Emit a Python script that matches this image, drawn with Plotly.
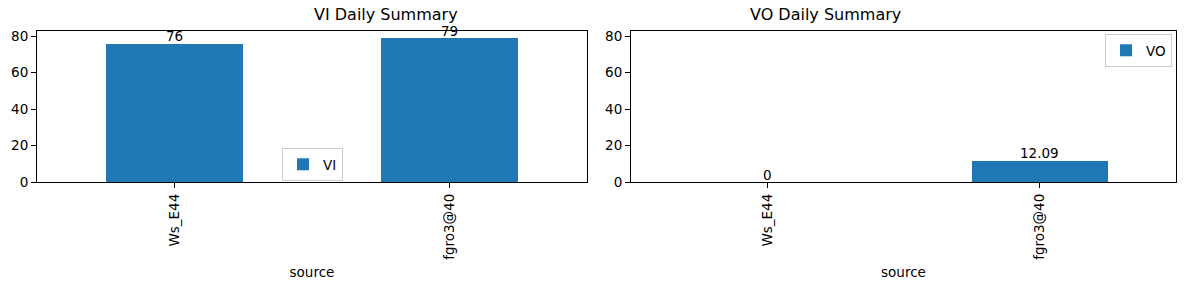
import plotly.graph_objects as go
from plotly.subplots import make_subplots

categories = ["Ws_E44", "fgro3@40"]
vi_values = [76, 79]
vo_values = [0, 12.09]
titles = ["VI Daily Summary", "VO Daily Summary"]
series_names = ["VI", "VO"]
y_ticks = [0, 20, 40, 60, 80]

W, H = 1189, 290
FONT = "DejaVu Sans"
BLUE = "#1f77b4"

fig = make_subplots(rows=1, cols=2)

ymax = max(vi_values + vo_values) * 1.05

def px_x(p):
    return p / W

def px_y(p):
    return 1 - p / H

domains = [(px_x(37), px_x(587)), (px_x(631), px_x(1176))]
ydom = (px_y(182.3), px_y(30.7))

for i, (vals, name) in enumerate(zip([vi_values, vo_values], series_names)):
    fig.add_trace(
        go.Bar(
            x=categories, y=vals, name=name, marker_color=BLUE,
            marker_line_width=0, width=0.5,
            legend="legend" if i == 0 else "legend2",
        ),
        row=1, col=i + 1,
    )
    for c, v in zip(categories, vals):
        fig.add_annotation(
            x=c, y=v, text=f"{v:g}", showarrow=False,
            xref=f"x{'' if i == 0 else 2}", yref=f"y{'' if i == 0 else 2}",
            yanchor="bottom", yshift=-3,
            font=dict(family=FONT, size=13.5, color="black"),
        )
    fig.add_annotation(
        x=(domains[i][0] + domains[i][1]) / 2, y=px_y(15), xref="paper", yref="paper",
        text=titles[i], showarrow=False, yanchor="middle",
        font=dict(family=FONT, size=16, color="black"),
    )

axis_common = dict(
    showline=True, linecolor="black", linewidth=1.1, mirror=True,
    ticks="outside", ticklen=5, tickcolor="black", tickwidth=1.1,
    showgrid=False, zeroline=False, automargin=False,
    tickfont=dict(family=FONT, size=13.5, color="black"),
)

for i in range(2):
    xa = "xaxis" if i == 0 else "xaxis2"
    ya = "yaxis" if i == 0 else "yaxis2"
    fig.layout[xa].update(
        domain=list(domains[i]), range=[-0.5, 1.5], tickangle=-90,
        title=dict(text="source", font=dict(family=FONT, size=13.5, color="black"), standoff=8),
        **axis_common,
    )
    fig.layout[ya].update(
        domain=list(ydom), range=[0, ymax], tickvals=y_ticks,
        **axis_common,
    )

legend_style = dict(
    bgcolor="rgba(255,255,255,0.8)", bordercolor="#cccccc", borderwidth=1,
    font=dict(family=FONT, size=13.5, color="black"),
    xref="paper", yref="paper",
)

fig.update_layout(
    width=W, height=H,
    margin=dict(l=0, r=0, t=0, b=0, autoexpand=False),
    paper_bgcolor="white", plot_bgcolor="white",
    showlegend=True,
    bargap=0,
    legend=dict(x=px_x(282), y=px_y(148), xanchor="left", yanchor="top", **legend_style),
    legend2=dict(x=px_x(1172), y=px_y(34), xanchor="right", yanchor="top", **legend_style),
)

fig.write_html("out.html")
